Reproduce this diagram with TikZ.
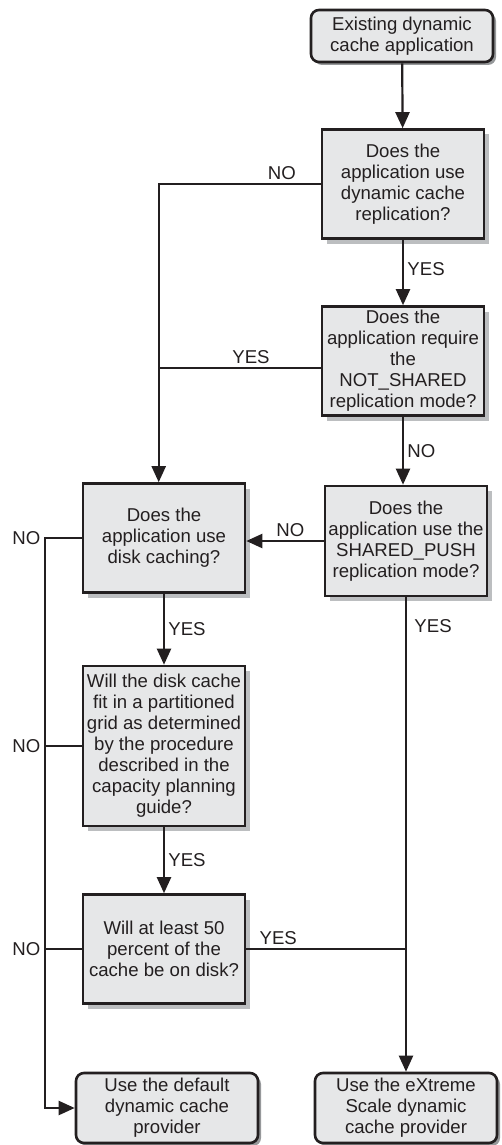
\documentclass[tikz,border=0pt]{standalone}
\usepackage{fontspec}
\setmainfont{Liberation Sans}
\usetikzlibrary{arrows.meta,shadows}
\definecolor{inkgray}{HTML}{231F20}
\definecolor{boxgray}{HTML}{E6E7E8}
\definecolor{shadegray}{HTML}{BCBEC0}
\tikzset{>/.tip={Triangle[length=16pt,width=14pt]}}

\begin{document}
\begin{tikzpicture}[x=1pt,y=-1pt,
  every node/.style={text=inkgray,font=\fontsize{18.6}{21}\selectfont},
  question/.style={draw=inkgray,line width=2.6pt,fill=boxgray,align=center,
    minimum width=162pt,inner xsep=1pt,inner ysep=0pt,
    drop shadow={shadow xshift=5pt,shadow yshift=-5pt,fill=shadegray,opacity=1}},
  terminal/.style={draw=inkgray,line width=2.6pt,fill=boxgray,align=center,
    minimum width=182pt,inner xsep=1pt,inner ysep=0pt,rounded corners=8pt,
    drop shadow={shadow xshift=3pt,shadow yshift=-3pt,fill=shadegray!80!black,opacity=1}},
  flow/.style={draw=inkgray,line width=2.2pt}]
\useasboundingbox (0,0) rectangle (501,1145);

\node[terminal,minimum height=52pt] (start) at (402,36) {Existing dynamic\\cache application};
\node[question,minimum height=109pt] (repl) at (403,184) {Does the\\application use\\dynamic cache\\replication?};
\node[question,minimum height=109pt] (notshared) at (403,361) {Does the\\application require\\the\\NOT\_SHARED\\replication mode?};
\node[question,minimum height=110pt] (push) at (406,541) {Does the\\application use the\\SHARED\_PUSH\\replication mode?};
\node[question,minimum height=109pt] (disk) at (164,538) {Does the\\application use\\disk caching?};
\node[question,minimum height=160pt] (fit) at (164,746) {Will the disk cache\\fit in a partitioned\\grid as determined\\by the procedure\\described in the\\capacity planning\\guide?};
\node[question,minimum height=109pt] (half) at (164,949) {Will at least 50\\percent of the\\cache be on disk?};
\node[terminal,minimum height=70pt] (default) at (167,1108) {Use the default\\dynamic cache\\provider};
\node[terminal,minimum height=70pt] (extreme) at (406,1108) {Use the eXtreme\\Scale dynamic\\cache provider};

% right column
\draw[flow,->] (start) -- (repl);
\draw[flow,->] (repl) -- node[right,pos=0.45] {YES} (notshared);
\draw[flow,->] (notshared.south) -- node[right] {NO} (notshared.south |- push.north);
\draw[flow,->] (push.west) -- node[above,pos=0.43] {NO} (push.west -| disk.east);
\draw[flow,->] (push.south) -- node[right,pos=0.06,xshift=4pt] {YES} (extreme.north);

% left branch from the replication questions
\draw[flow,->] (repl.west) -- node[above,pos=0.24] {NO} ++(-162,0) coordinate (bend) -- (bend |- disk.north);
\draw[flow] ([yshift=-7pt]notshared.west) -- node[above,pos=0.43] {YES} ++(-162,0);

% left column
\draw[flow,->] (disk) -- node[right] {YES} (fit);
\draw[flow,->] (fit) -- node[right] {YES} (half);
\draw[flow] (half.east) -- node[above,pos=0.2] {YES} (half.east -| push.south);
\draw[flow,->] (disk.west) -- ++(-37,0) node[left] {NO} coordinate (outer) |- (default.west);
\draw[flow] (fit.west) -- (fit.west -| outer) node[left] {NO};
\draw[flow] (half.west) -- (half.west -| outer) node[left] {NO};
\end{tikzpicture}
\end{document}
